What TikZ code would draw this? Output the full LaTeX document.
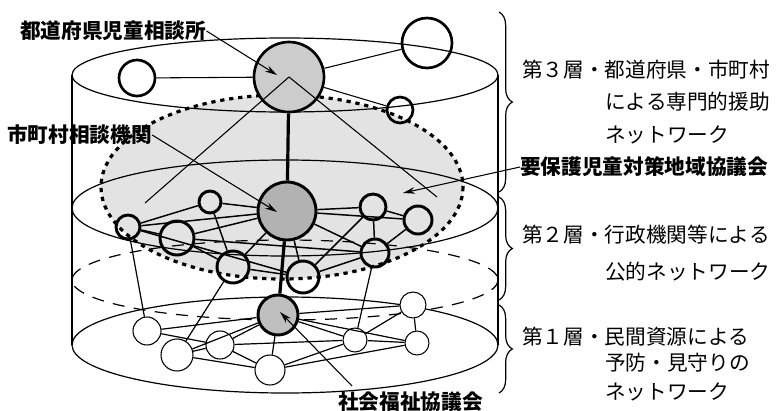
\documentclass[tikz,border=0pt]{standalone}
\usepackage{fontspec}
\newfontfamily\jp{Noto Sans CJK JP}
\usetikzlibrary{arrows.meta,decorations.pathreplacing}
\begin{document}
\begin{tikzpicture}[x=0.75pt,y=-0.75pt,
  cyl/.style={line width=0.9pt},
  topln/.style={line width=0.8pt},
  edgetwo/.style={line width=1.1pt},
  edgeone/.style={line width=0.9pt},
  thickln/.style={line width=2.4pt},
  cthree/.style={circle,draw,line width=2pt,inner sep=0pt,minimum size=#1*1.5pt},
  ctwo/.style={circle,draw,line width=2.2pt,inner sep=0pt,minimum size=#1*1.5pt},
  cone/.style={circle,draw,fill=white,line width=0.8pt,inner sep=0pt,minimum size=#1*1.5pt},
  lbl/.style={font=\jp\bfseries\fontsize{15.5pt}{18pt}\selectfont,inner sep=0pt,anchor=west},
  txt/.style={font=\jp\fontsize{15.5pt}{18pt}\selectfont,inner sep=0pt,anchor=west},
  arr/.style={-{Stealth[length=9pt,width=5pt]},line width=0.8pt},
  brc/.style={line width=0.9pt,decorate,decoration={brace,amplitude=10pt}}
]
\useasboundingbox (0,0) rectangle (776,411);

% shaded council region
\fill[black!11] (282,187) ellipse [x radius=181, y radius=92];

% cylinder
\draw[cyl] (72,75) -- (72,345);
\draw[cyl] (498,75) -- (498,345);
\draw[cyl] (285,75) ellipse [x radius=213, y radius=37];
\draw[cyl] (285,208) ellipse [x radius=213, y radius=48];
\draw[cyl, dash pattern=on 9pt off 7pt] (285,280) ellipse [x radius=213, y radius=40];
\draw[cyl] (285,345) ellipse [x radius=213, y radius=48];

% council border
\draw[line width=2.4pt, dash pattern=on 3.2pt off 3.6pt] (282,187) ellipse [x radius=181, y radius=92];

% ---------- layer 3 ----------
\node[cthree=35, fill=black!20] (T) at (289,77) {};
\node[cthree=18] (L3) at (137,78) {};
\node[cthree=25] (R3) at (427,43) {};
\node[cthree=13] (Q3) at (400,110) {};
\draw[topln] (L3) -- (T);
\draw[topln] (T) -- (R3);
\draw[topln] (T) -- (Q3);
\coordinate (tl) at (145,203);
\coordinate (tr) at (437,197);
\draw[topln] (T.center) -- (tl);
\draw[topln] (T.center) -- (tr);

% ---------- layer 2 ----------
\node[ctwo=29, fill=black!30] (M) at (287,211) {};
\node[ctwo=11] (A) at (210,202) {};
\node[ctwo=12] (B) at (128,227) {};
\node[ctwo=17] (C) at (177,238) {};
\node[ctwo=16] (D) at (233,267) {};
\node[ctwo=16] (E) at (303,277) {};
\node[ctwo=13] (F) at (373,207) {};
\node[ctwo=14] (G) at (418,220) {};
\node[ctwo=14] (H) at (375,253) {};
\foreach \p/\q in {B/A,B/M,B/C,A/M,C/M,A/D,C/D,D/M,M/E,D/E,C/H,B/E,M/F,M/G,M/H,F/G,F/H,G/H,E/F,H/E}
  \draw[edgetwo] (\p) -- (\q);

% ---------- layer 1 ----------
\node[ctwo=20, fill=black!25] (S) at (278,315) {};
\node[cone=14] (a) at (147,331) {};
\node[cone=16] (b) at (177,355) {};
\node[cone=14] (c) at (220,345) {};
\node[cone=15] (d) at (270,370) {};
\node[cone=12] (e) at (355,340) {};
\node[cone=13] (f) at (413,305) {};
\node[cone=12] (g) at (417,343) {};
\foreach \p/\q in {a/S,a/c,b/c,b/S,c/S,c/d,b/d,d/S,c/e,S/f,S/g,S/e,e/f,e/g,d/g,d/e,f/g}
  \draw[edgeone] (\p) -- (\q);

% links between layers
\draw[thickln] (T) -- (M);
\draw[thickln] (M) -- (S);
\draw[edgeone] (B) -- (a);
\draw[edgeone] (D) -- (b);
\draw[edgeone] (H) -- (e);

% ---------- labels ----------
\node[lbl] (lT) at (20,31) {都道府県児童相談所};
\node[lbl] (lM) at (7,135) {市町村相談機関};
\node[lbl] (lY) at (520,167) {要保護児童対策地域協議会};
\node[lbl] (lS) at (338,402) {社会福祉協議会};
\coordinate (aT) at (277,75);
\coordinate (aM) at (277,212);
\coordinate (aY) at (403,193);
\coordinate (aS) at (280,312);
\coordinate (sS) at (352,386);
\draw[arr] (lT.east) -- (aT);
\draw[arr] (lM.east) -- (aM);
\draw[arr] (lY.west) -- (aY);
\draw[arr] (sS) -- (aS);

% ---------- braces ----------
\draw[brc] (499,12) -- (499,192);
\draw[brc] (499,197) -- (499,300);
\draw[brc] (499,305) -- (499,393);

% ---------- right texts ----------
\node[txt] (t3a) at (522,70) {第３層・都道府県・市町村};
\node[txt] (t3b) at (605,102) {による専門的援助};
\node[txt] (t3c) at (605,135) {ネットワーク};
\node[txt] (t2a) at (522,235) {第２層・行政機関等による};
\node[txt] (t2b) at (605,272) {公的ネットワーク};
\node[txt] (t1a) at (522,337) {第１層・民間資源による};
\node[txt] (t1b) at (605,363) {予防・見守りの};
\node[txt] (t1c) at (605,392) {ネットワーク};
\end{tikzpicture}
\end{document}
